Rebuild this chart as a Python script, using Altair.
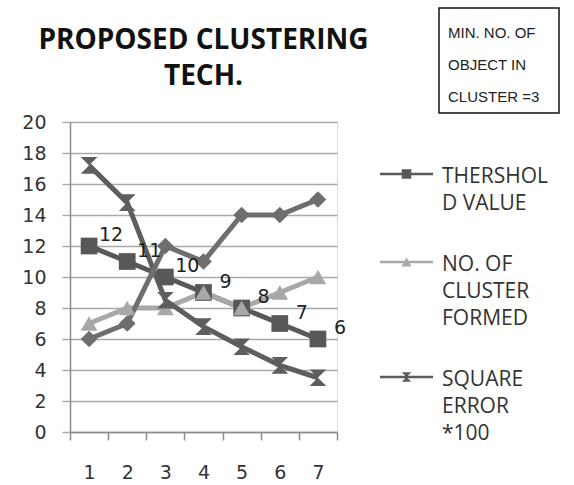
import altair as alt
import pandas as pd

# ---- data ----
x_labels = ["1", "2", "3", "4", "5", "6", "7"]
threshold_value = [12, 11, 10, 9, 8, 7, 6]
clusters_formed = [7, 8, 8, 9, 8, 9, 10]
square_error_x100 = [17.2, 14.8, 8.5, 6.8, 5.5, 4.3, 3.5]
series_four = [6, 7, 12, 11, 14, 14, 15]

legend_series = ["THERSHOLD VALUE", "NO. OF CLUSTER FORMED", "SQUARE ERROR *100"]
all_series = legend_series + ["SERIES 4"]
series_colors = ["#585858", "#a8a8a8", "#5e5e5e", "#6e6e6e"]
plot_shapes = [
    "square",
    "triangle-up",
    "M-1,-1L1,-1L0,0ZM0,0L1,1L-1,1Z",
    "diamond",
]
# legend glyphs: a short line with the marker on it (unit box -1..1)
legend_shapes = [
    "M-1,0.27H1V0.37H-1ZM-0.18,0.14H0.18V0.50H-0.18Z",
    "M-1,0.27H1V0.37H-1ZM0,0.14L0.19,0.49L-0.19,0.49Z",
    "M-1,0.27H1V0.37H-1ZM-0.18,0.14L0.18,0.14L0,0.32ZM0,0.32L0.18,0.50L-0.18,0.50Z",
]
box_lines = ["MIN. NO. OF", "OBJECT IN", "CLUSTER  =3"]
title_lines = ["PROPOSED CLUSTERING", "TECH."]

rows = []
for name, vals in zip(all_series, [threshold_value, clusters_formed, square_error_x100, series_four]):
    for xl, v in zip(x_labels, vals):
        rows.append({"x": xl, "series": name, "value": v})
df = pd.DataFrame(rows)

label_expr = (
    "split(datum.label == 'THERSHOLD VALUE' ? 'THERSHOL|D VALUE' : "
    "datum.label == 'NO. OF CLUSTER FORMED' ? 'NO. OF|CLUSTER|FORMED' : "
    "'SQUARE|ERROR|*100', '|')"
)

x_enc = alt.X(
    "x:N",
    sort=x_labels,
    scale=alt.Scale(paddingInner=0, paddingOuter=0),
    axis=alt.Axis(
        title=None, labelAngle=0, grid=False, tickBand="extent", tickSize=8,
        labelPadding=23, labelFont="DejaVu Sans", labelFontSize=19, labelColor="#333333",
        domainColor="#8c8c8c", tickColor="#8c8c8c", domainWidth=1.5, tickWidth=1.5,
    ),
)
y_enc = alt.Y(
    "value:Q",
    scale=alt.Scale(domain=[0, 20], nice=False),
    axis=alt.Axis(
        title=None, values=list(range(0, 21, 2)), grid=True, gridColor="#a9a9a9", gridWidth=1.4,
        tickSize=8, labelPadding=16, labelFont="DejaVu Sans", labelFontSize=19, labelColor="#333333",
        domainColor="#8c8c8c", tickColor="#a9a9a9", domainWidth=1.5, tickWidth=1.4,
    ),
)

color_plot = alt.Color("series:N", scale=alt.Scale(domain=all_series, range=series_colors), legend=None)
shape_plot = alt.Shape("series:N", scale=alt.Scale(domain=all_series, range=plot_shapes), legend=None)

base = alt.Chart(df)

lines = base.mark_line(strokeWidth=5).encode(
    x=x_enc, y=y_enc, color=color_plot, detail="series:N"
)
points = base.mark_point(filled=True, opacity=1, size=280, strokeWidth=0).encode(
    x=x_enc, y=y_enc, color=color_plot, shape=shape_plot
)
labels = base.transform_filter(alt.datum.series == "THERSHOLD VALUE").mark_text(
    dx=22, dy=-11, font="DejaVu Sans", fontSize=19, color="#222222"
).encode(x=x_enc, y=y_enc, text="value:Q")

legend = alt.Legend(
    title=None, orient="none", legendX=310, legendY=17, padding=0,
    labelExpr=label_expr, labelFont="Open Sans", labelFontSize=21, labelColor="#333333",
    labelBaseline="top", labelOffset=9, symbolSize=2809, symbolStrokeWidth=0,
    rowPadding=13, labelLimit=200,
)
legend_layer = base.transform_filter(alt.datum.value < -100).mark_point(
    filled=True, opacity=1, strokeWidth=0
).encode(
    x=x_enc, y=y_enc,
    color=alt.Color("series:N", scale=alt.Scale(domain=legend_series, range=series_colors[:3]), legend=legend),
    shape=alt.Shape("series:N", scale=alt.Scale(domain=legend_series, range=legend_shapes), legend=legend),
)

box_df = pd.DataFrame({"k": [0]})
box = alt.Chart(box_df).mark_rect(fill="white", stroke="#111111", strokeWidth=1.5).encode(
    x=alt.value(369), x2=alt.value(489), y=alt.value(-114), y2=alt.value(-9)
)
box_text = alt.Chart(box_df).mark_text(
    text=box_lines, align="left", baseline="middle", lineHeight=32,
    font="Liberation Sans", fontSize=15, color="#222222"
).encode(x=alt.value(378), y=alt.value(-89))

chart = alt.layer(lines, points, labels, legend_layer, box, box_text).resolve_scale(
    color="independent", shape="independent"
).properties(
    width=267, height=310,
    autosize=alt.AutoSizeParams(type="none"),
    padding={"left": 70, "top": 122, "right": 237, "bottom": 53},
    title=alt.Title(
        text=title_lines, font="Open Sans", fontSize=28, fontWeight="bold", color="#111111",
        lineHeight=36, anchor="middle", offset=0, dy=84,
    ),
).configure_view(stroke=None).configure(
    background="white", style={"guide-label": {"lineHeight": 27}}
)

chart.save("out.html", embed_options={"renderer": "svg", "actions": False})
